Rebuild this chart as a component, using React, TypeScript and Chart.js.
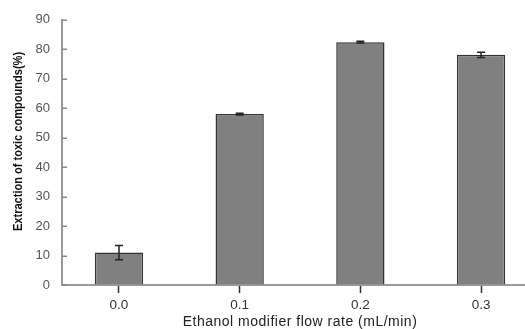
import React, { useEffect, useRef } from "react";
import { Chart, registerables } from "chart.js";

Chart.register(...registerables);

const xValues = [0, 0.1, 0.2, 0.3];
const seriesValues = [11.0, 58.0, 82.4, 78.1];
const seriesErrors = [2.4, 0.3, 0.3, 0.9];
const yTicks = [0, 10, 20, 30, 40, 50, 60, 70, 80, 90];
const xTitle = "Ethanol modifier flow rate (mL/min)";
const yTitle = "Extraction of toxic compounds(%)";

const errorBarPlugin = {
  id: "errorBars",
  afterDatasetsDraw(chart: any) {
    const meta = chart.getDatasetMeta(0);
    const yScale = chart.scales.y;
    const ctx = chart.ctx;
    ctx.save();
    ctx.strokeStyle = "#222";
    ctx.lineWidth = 1.5;
    meta.data.forEach((bar: any, i: number) => {
      const v = seriesValues[i];
      const e = seriesErrors[i];
      const yt = yScale.getPixelForValue(v + e);
      const yb = yScale.getPixelForValue(v - e);
      const x = bar.x;
      ctx.beginPath();
      ctx.moveTo(x, yt);
      ctx.lineTo(x, yb);
      ctx.moveTo(x - 4, yt);
      ctx.lineTo(x + 4, yt);
      ctx.moveTo(x - 4, yb);
      ctx.lineTo(x + 4, yb);
      ctx.stroke();
    });
    ctx.restore();
  },
};

const decorPlugin = {
  id: "decor",
  afterDraw(chart: any) {
    const yScale = chart.scales.y;
    const ctx = chart.ctx;
    const left = chart.chartArea.left;
    ctx.save();
    ctx.strokeStyle = "#888";
    ctx.lineWidth = 1.5;
    yTicks.forEach((t) => {
      const y = Math.round(yScale.getPixelForValue(t)) + 0.25;
      ctx.beginPath();
      ctx.moveTo(left, y);
      ctx.lineTo(left + 5, y);
      ctx.stroke();
    });
    ctx.restore();

    // x-axis title
    ctx.save();
    ctx.fillStyle = "#222";
    ctx.font = "14px 'Liberation Sans', Arial, sans-serif";
    (ctx as any).letterSpacing = "0.5px";
    ctx.textAlign = "center";
    ctx.textBaseline = "middle";
    ctx.fillText(xTitle, 300, 322);
    ctx.restore();

    // y-axis title
    ctx.save();
    ctx.translate(19, 141.5);
    ctx.rotate(-Math.PI / 2);
    ctx.scale(0.92, 1);
    ctx.fillStyle = "#111";
    ctx.font = "bold 12px 'Liberation Sans', Arial, sans-serif";
    ctx.textAlign = "center";
    ctx.textBaseline = "middle";
    ctx.fillText(yTitle, 0, 0);
    ctx.restore();
  },
};

export default function App() {
  const ref = useRef<HTMLCanvasElement | null>(null);
  useEffect(() => {
    if (!ref.current) return;
    const chart = new Chart(ref.current, {
      type: "bar",
      data: {
        datasets: [
          {
            data: xValues.map((x, i) => ({ x, y: seriesValues[i] })),
            backgroundColor: "#808080",
            borderColor: "#333",
            borderWidth: 1.5,
            barPercentage: 0.4,
            categoryPercentage: 1,
          },
        ],
      },
      plugins: [errorBarPlugin, decorPlugin],
      options: {
        animation: false,
        responsive: false,
        layout: { padding: { top: 17, right: 1, left: 0, bottom: 0 } },
        plugins: { legend: { display: false }, tooltip: { enabled: false } },
        scales: {
          x: {
            type: "linear",
            offset: false,
            min: -0.0472,
            max: 0.348,
            afterBuildTicks: (s: any) => {
              s.ticks = xValues.map((v) => ({ value: v }));
            },
            afterFit: (s: any) => {
              s.height = 44;
            },
            ticks: {
              color: "#333",
              font: { size: 13.5, family: "'Liberation Sans', Arial, sans-serif" },
              padding: 4,
              callback: (v: any) => Number(v).toFixed(1),
              maxRotation: 0,
            },
            grid: {
              offset: false,
              drawOnChartArea: false,
              drawTicks: true,
              tickLength: 8,
              tickColor: "#333",
              tickWidth: 1.5,
            },
            border: { color: "#999", width: 2 },
            title: { display: false },
          },
          y: {
            min: 0,
            max: 90,
            afterBuildTicks: (s: any) => {
              s.ticks = yTicks.map((v) => ({ value: v }));
            },
            afterFit: (s: any) => {
              s.width = 62;
            },
            ticks: {
              color: "#555",
              font: { size: 13, family: "'Liberation Sans', Arial, sans-serif" },
              padding: 12,
            },
            grid: { drawOnChartArea: false, drawTicks: false },
            border: { color: "#999", width: 2 },
          },
        },
      },
    });
    return () => chart.destroy();
  }, []);
  return (
    <div
      style={{
        position: "absolute",
        left: 0,
        top: 0,
        width: 525,
        height: 329,
        overflow: "hidden",
        background: "#fff",
      }}
    >
      <canvas ref={ref} width={540} height={329} style={{ display: "block" }} />
    </div>
  );
}
